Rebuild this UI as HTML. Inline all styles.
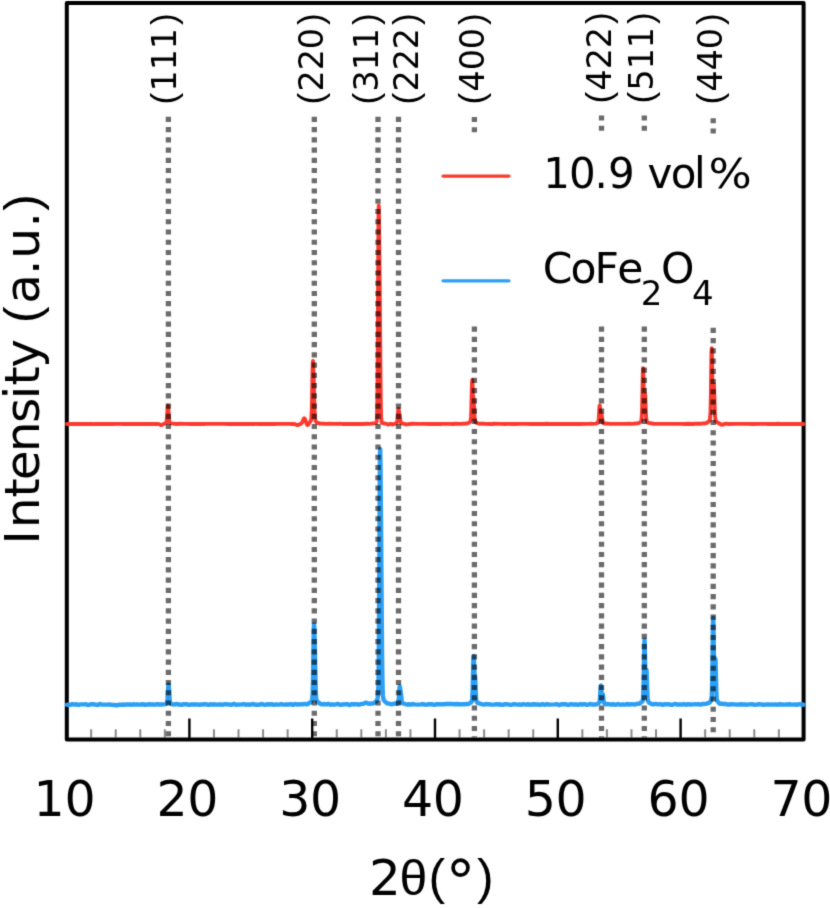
<!DOCTYPE html>
<html><head><meta charset="utf-8"><style>
html,body{margin:0;padding:0;background:#fff;}
svg{display:block;}
text{font-family:'DejaVu Sans', 'Liberation Sans', sans-serif;fill:#000;}
.lib{font-family:'Liberation Sans',sans-serif;}
</style></head><body><div>
<svg width="830" height="908" viewBox="0 0 830 908">
<defs><filter id="bl" x="0" y="0" width="830" height="908" filterUnits="userSpaceOnUse" color-interpolation-filters="sRGB"><feConvolveMatrix order="3" kernelMatrix="0.0188 0.0995 0.0188 0.0995 0.5271 0.0995 0.0188 0.0995 0.0188" edgeMode="duplicate" preserveAlpha="true"/></filter></defs>
<g filter="url(#bl)">
<rect width="830" height="908" fill="#fff"/>
<path d="M91.16,737.6V729.3M115.72,737.6V729.3M140.28,737.6V729.3M164.84,737.6V729.3M213.96,737.6V729.3M238.52,737.6V729.3M263.08,737.6V729.3M287.64,737.6V729.3M336.76,737.6V729.3M361.32,737.6V729.3M385.88,737.6V729.3M410.44,737.6V729.3M459.56,737.6V729.3M484.12,737.6V729.3M508.68,737.6V729.3M533.24,737.6V729.3M582.36,737.6V729.3M606.92,737.6V729.3M631.48,737.6V729.3M656.04,737.6V729.3M705.16,737.6V729.3M729.72,737.6V729.3M754.28,737.6V729.3M778.84,737.6V729.3" stroke="#8a8a8a" stroke-width="2" fill="none"/>
<path d="M189.40,739.5V718.5M312.20,739.5V718.5M435.00,739.5V718.5M557.80,739.5V718.5M680.60,739.5V718.5" stroke="#000" stroke-width="2.4" fill="none"/>
<rect x="66.8" y="3" width="736.8" height="736.5" fill="none" stroke="#000" stroke-width="4" stroke-linejoin="round"/>
<path d="M67.00,424.02 L73.25,423.98 L79.50,423.95 L85.75,424.03 L92.00,423.89 L94.00,424.07 L100.25,423.93 L103.50,424.01 L105.25,423.90 L111.50,423.98 L117.75,423.92 L124.00,423.97 L130.25,423.95 L136.50,423.91 L138.75,424.06 L141.00,423.87 L147.25,423.99 L153.50,423.86 L155.25,424.01 L157.50,423.91 L158.75,424.10 L160.75,425.01 L161.25,425.08 L161.75,424.96 L163.50,423.99 L165.50,423.20 L166.00,422.87 L166.25,422.53 L166.50,421.84 L166.75,420.38 L167.00,417.78 L167.25,414.00 L167.50,409.83 L167.75,406.66 L168.00,405.74 L168.25,407.36 L168.50,410.75 L168.75,414.66 L169.00,418.04 L169.25,420.41 L169.50,421.81 L169.75,422.53 L170.00,422.89 L170.25,423.08 L171.00,423.40 L177.25,423.97 L179.75,423.78 L186.00,423.91 L191.25,423.98 L197.50,423.93 L203.75,423.97 L205.50,423.87 L211.75,423.91 L218.00,423.87 L224.25,423.84 L229.75,424.01 L232.00,423.83 L238.25,423.97 L241.25,423.87 L247.50,423.98 L253.75,423.90 L260.00,423.97 L266.25,423.97 L270.50,423.84 L275.00,423.94 L276.75,423.84 L283.00,423.87 L289.25,423.86 L291.50,423.95 L293.25,423.83 L295.25,424.26 L297.00,425.00 L297.50,425.08 L298.00,425.02 L301.00,423.64 L301.50,423.24 L301.75,422.96 L302.00,422.60 L302.25,422.17 L302.50,421.65 L303.50,419.26 L303.75,418.79 L304.00,418.46 L304.25,418.32 L304.50,418.37 L304.75,418.61 L305.00,419.04 L305.25,419.61 L305.50,420.29 L306.25,422.61 L306.50,423.34 L306.75,423.98 L307.00,424.49 L307.25,424.83 L307.50,424.98 L307.75,424.95 L308.00,424.76 L308.25,424.44 L309.25,422.90 L310.25,421.64 L310.50,421.27 L310.75,420.79 L311.00,420.10 L311.25,418.81 L311.50,416.06 L311.75,410.44 L312.00,400.60 L312.25,386.95 L312.50,372.81 L312.75,363.11 L313.00,360.87 L313.25,365.08 L313.50,372.60 L313.75,381.31 L314.00,390.68 L314.25,400.13 L314.50,408.35 L314.75,414.25 L315.00,417.76 L315.25,419.60 L315.50,420.55 L315.75,421.13 L316.00,421.55 L316.50,422.18 L317.00,422.61 L317.75,423.00 L320.25,423.47 L326.50,423.89 L328.75,423.78 L335.00,423.90 L341.25,423.82 L343.25,424.00 L349.50,423.94 L354.50,423.87 L356.00,424.04 L362.25,423.97 L367.50,423.77 L369.50,423.92 L375.00,423.28 L375.75,422.98 L376.00,422.81 L376.25,422.54 L376.50,421.97 L376.75,420.44 L377.00,416.24 L377.25,405.95 L377.50,384.75 L377.75,349.02 L378.00,300.94 L378.25,251.44 L378.50,216.18 L378.75,205.58 L379.00,217.50 L379.25,240.90 L379.50,266.35 L379.75,292.00 L380.00,319.92 L380.25,349.75 L380.50,377.35 L380.75,398.39 L381.00,411.51 L381.25,418.27 L381.50,421.21 L381.75,422.35 L382.00,422.80 L382.25,423.00 L386.50,423.81 L388.00,424.47 L388.50,424.54 L389.00,424.41 L390.00,423.97 L390.50,423.88 L391.50,424.02 L392.50,424.30 L393.00,424.33 L396.00,423.28 L396.50,423.00 L396.75,422.74 L397.00,422.23 L397.25,421.15 L397.50,419.13 L397.75,416.05 L398.00,412.52 L398.25,409.78 L398.50,408.91 L398.75,409.88 L399.00,411.62 L399.25,413.15 L399.50,414.39 L399.75,415.81 L400.00,417.67 L400.25,419.65 L400.50,421.27 L400.75,422.31 L401.00,422.87 L401.25,423.14 L401.75,423.33 L404.25,423.82 L405.75,424.32 L406.50,424.35 L412.00,423.80 L418.25,423.88 L424.50,423.90 L430.75,423.96 L437.00,423.89 L440.25,424.01 L442.00,423.83 L448.25,423.88 L453.00,424.02 L455.25,423.77 L460.50,423.92 L466.50,423.51 L468.50,422.94 L469.25,422.55 L469.75,422.11 L470.00,421.81 L470.25,421.41 L470.50,420.75 L470.75,419.44 L471.00,416.63 L471.25,411.14 L471.50,402.41 L471.75,391.80 L472.00,383.00 L472.25,379.86 L472.50,383.11 L472.75,389.47 L473.00,394.64 L473.25,396.91 L473.50,397.98 L473.75,400.44 L474.00,405.13 L474.25,410.78 L474.50,415.62 L474.75,418.82 L475.00,420.57 L475.25,421.44 L475.50,421.90 L475.75,422.20 L476.25,422.59 L478.50,423.49 L484.75,423.82 L491.00,423.95 L492.25,423.96 L494.00,423.75 L500.25,423.87 L505.25,424.04 L507.50,423.86 L513.75,423.93 L520.00,423.90 L526.25,423.87 L531.75,423.97 L538.00,423.87 L544.00,424.01 L546.00,423.77 L550.25,424.04 L555.50,423.90 L557.25,424.02 L563.50,423.94 L569.75,423.98 L576.00,423.96 L578.00,423.85 L580.00,424.01 L586.25,423.91 L589.00,423.92 L590.75,423.71 L593.00,423.85 L595.75,423.62 L597.00,423.20 L597.75,422.76 L598.00,422.49 L598.25,421.94 L598.50,420.75 L598.75,418.42 L599.00,414.71 L599.25,410.20 L599.50,406.54 L599.75,405.46 L600.00,407.43 L600.25,411.10 L600.50,414.35 L600.75,415.74 L601.00,415.33 L601.25,414.30 L601.50,414.03 L601.75,415.15 L602.00,417.30 L602.25,419.57 L602.50,421.28 L602.75,422.29 L603.00,422.78 L603.25,423.02 L605.00,423.57 L611.25,423.87 L617.50,423.83 L623.75,423.86 L630.00,423.73 L631.75,423.90 L638.00,423.20 L639.25,422.79 L640.00,422.36 L640.50,421.88 L640.75,421.55 L641.00,421.12 L641.25,420.50 L641.50,419.38 L641.75,417.03 L642.00,412.09 L642.25,403.16 L642.50,390.32 L642.75,376.79 L643.00,368.23 L643.25,368.93 L643.50,378.14 L643.75,390.36 L644.00,399.45 L644.25,402.29 L644.50,399.75 L644.75,395.48 L645.00,393.58 L645.25,396.19 L645.50,402.40 L645.75,409.47 L646.00,415.09 L646.25,418.54 L646.50,420.32 L646.75,421.19 L647.00,421.66 L647.25,421.98 L647.75,422.43 L648.50,422.84 L653.75,423.73 L660.00,423.84 L666.25,423.88 L672.50,423.89 L678.75,423.86 L682.25,423.84 L684.00,424.03 L688.25,423.79 L693.00,423.95 L695.00,423.73 L701.25,423.68 L705.75,423.19 L707.25,422.60 L708.25,421.99 L708.75,421.53 L709.00,421.22 L709.25,420.83 L709.50,420.35 L709.75,419.69 L710.00,418.59 L710.25,416.32 L710.50,411.38 L710.75,401.72 L711.00,386.32 L711.25,367.69 L711.50,352.57 L711.75,348.29 L712.00,356.99 L712.25,373.62 L712.50,389.89 L712.75,399.64 L713.00,401.08 L713.25,396.02 L713.50,388.61 L713.75,383.85 L714.00,385.15 L714.25,392.25 L714.50,401.80 L714.75,410.18 L715.00,415.73 L715.25,418.71 L715.50,420.14 L715.75,420.86 L716.00,421.29 L716.25,421.60 L716.75,422.05 L721.50,424.71 L722.00,424.85 L722.50,424.82 L724.75,423.90 L726.25,423.67 L728.75,423.94 L734.50,423.84 L740.75,423.91 L747.00,423.87 L753.25,423.94 L759.50,423.90 L765.75,423.92 L768.00,423.98 L774.25,424.03 L778.75,423.80 L780.75,424.07 L787.00,423.91 L793.25,424.03 L799.50,423.94 L803.50,423.97" stroke="#fb3a2e" stroke-width="3.9" fill="none" stroke-linejoin="round" stroke-linecap="round"/>
<path d="M67.00,704.71 L68.00,705.02 L70.00,704.91 L72.25,704.19 L72.75,704.18 L74.25,704.64 L74.75,704.65 L76.00,704.32 L76.50,704.31 L78.00,704.82 L78.50,704.88 L80.75,704.36 L84.25,704.39 L85.50,704.27 L86.25,704.39 L87.50,704.89 L88.00,704.98 L88.75,704.88 L90.75,704.30 L92.50,704.16 L94.75,704.53 L96.00,704.63 L97.25,705.00 L97.75,705.01 L98.25,704.85 L99.50,704.09 L100.00,703.98 L100.50,704.05 L101.75,704.47 L108.00,704.63 L109.50,704.43 L110.25,704.51 L111.75,704.92 L114.00,704.94 L116.50,705.30 L117.50,705.22 L119.25,704.65 L120.00,704.64 L121.25,704.82 L123.00,704.53 L124.75,704.80 L125.50,704.72 L126.75,704.39 L130.00,704.43 L131.50,704.72 L132.25,704.61 L133.25,704.31 L134.00,704.30 L135.50,704.57 L137.50,704.50 L139.25,704.61 L142.50,704.27 L145.00,704.74 L149.75,704.24 L151.75,704.57 L153.50,704.50 L154.75,704.69 L155.50,704.60 L156.75,704.22 L157.50,704.24 L158.75,704.49 L160.75,704.32 L162.25,704.45 L165.25,704.13 L165.75,703.95 L166.25,703.65 L166.50,703.43 L166.75,703.10 L167.00,702.49 L167.25,701.25 L167.50,698.91 L167.75,695.23 L168.00,690.69 L168.25,686.60 L168.50,684.53 L168.75,685.25 L169.00,688.34 L169.25,692.55 L169.50,696.60 L169.75,699.68 L170.00,701.63 L170.25,702.70 L170.50,703.25 L170.75,703.55 L171.25,703.91 L172.00,704.22 L174.25,704.44 L175.25,704.30 L176.50,703.96 L177.00,703.98 L178.75,704.56 L181.75,704.76 L183.75,704.19 L187.00,704.30 L188.75,704.85 L189.25,704.87 L191.00,704.39 L197.00,704.43 L198.75,704.69 L205.00,704.31 L206.75,704.43 L208.25,704.87 L208.75,704.88 L210.50,704.28 L211.00,704.28 L212.25,704.55 L213.00,704.50 L214.00,704.29 L214.75,704.33 L216.00,704.63 L220.50,704.42 L222.25,704.74 L223.00,704.66 L224.25,704.24 L225.00,704.18 L231.25,704.73 L232.00,704.64 L233.50,704.01 L234.00,703.96 L234.50,704.08 L235.75,704.66 L236.25,704.74 L238.00,704.57 L239.75,704.64 L244.00,704.14 L244.75,704.32 L245.75,704.71 L246.25,704.77 L247.75,704.43 L248.25,704.43 L249.75,704.81 L250.25,704.79 L252.25,704.11 L253.00,704.04 L254.00,704.24 L255.25,704.70 L256.00,704.79 L257.75,704.60 L259.25,704.69 L261.25,704.07 L262.00,704.06 L265.00,704.90 L265.50,704.91 L266.25,704.70 L267.25,704.28 L267.75,704.22 L269.25,704.61 L269.75,704.59 L271.00,704.17 L271.50,704.14 L273.25,704.76 L273.75,704.79 L275.75,704.35 L279.00,704.65 L280.00,704.47 L281.00,704.18 L281.50,704.18 L283.25,704.67 L284.25,704.62 L286.00,704.36 L288.50,704.56 L290.50,704.12 L291.00,704.16 L292.50,704.81 L293.00,704.85 L293.50,704.69 L294.50,704.17 L295.00,704.05 L295.50,704.11 L296.75,704.48 L301.50,704.25 L302.75,704.36 L304.50,703.88 L305.00,703.87 L306.50,704.34 L307.00,704.34 L307.50,704.15 L309.25,702.95 L310.50,702.29 L311.00,701.90 L311.25,701.62 L311.50,701.26 L311.75,700.79 L312.00,700.10 L312.25,698.88 L312.50,696.33 L312.75,690.89 L313.00,680.63 L313.25,664.91 L313.50,646.44 L313.75,631.15 L314.00,624.40 L314.25,626.92 L314.50,635.27 L314.75,645.88 L315.00,657.50 L315.25,669.66 L315.50,681.03 L315.75,689.88 L316.00,695.54 L316.25,698.60 L316.50,700.10 L316.75,700.87 L317.00,701.31 L317.25,701.61 L320.00,703.63 L320.75,703.98 L322.25,704.20 L324.50,704.04 L326.25,704.45 L326.75,704.39 L328.00,703.92 L328.50,703.90 L329.00,704.06 L330.00,704.58 L330.50,704.70 L331.25,704.59 L332.25,704.32 L334.75,704.57 L337.50,703.95 L338.00,703.97 L338.75,704.23 L339.75,704.73 L340.25,704.85 L341.00,704.79 L342.50,704.47 L347.00,704.08 L347.75,704.21 L349.25,704.93 L349.75,705.03 L350.25,704.92 L351.50,704.20 L352.00,704.07 L352.50,704.12 L353.50,704.42 L354.00,704.45 L355.50,704.13 L356.25,704.18 L358.00,704.51 L359.75,704.46 L362.00,703.83 L363.50,703.70 L364.25,703.39 L365.25,702.80 L365.75,702.65 L366.25,702.67 L368.50,703.62 L369.50,703.74 L371.75,703.51 L372.75,703.51 L373.25,703.40 L373.75,703.14 L376.25,701.25 L376.50,700.98 L376.75,700.62 L377.00,700.14 L377.25,699.51 L377.50,698.63 L377.75,697.28 L378.00,694.79 L378.25,689.68 L378.50,679.10 L378.75,659.03 L379.00,625.87 L379.25,579.75 L379.50,527.36 L379.75,481.13 L380.00,453.39 L380.25,449.24 L380.50,464.43 L380.75,490.21 L381.00,520.06 L381.25,551.96 L381.50,585.48 L381.75,618.57 L382.00,647.55 L382.25,669.43 L382.50,683.65 L382.75,691.73 L383.00,695.91 L383.25,698.02 L383.50,699.18 L383.75,699.90 L384.00,700.41 L384.25,700.80 L384.75,701.35 L386.75,703.02 L387.25,703.33 L387.75,703.48 L389.25,703.59 L391.00,704.23 L391.50,704.26 L394.25,703.55 L395.25,703.59 L396.50,703.84 L397.00,703.83 L397.50,703.65 L397.75,703.49 L398.00,703.21 L398.25,702.66 L398.50,701.52 L398.75,699.33 L399.00,695.84 L399.25,691.58 L399.50,687.97 L399.75,686.44 L400.00,687.25 L400.25,689.29 L400.50,691.21 L400.75,692.67 L401.00,694.21 L401.25,696.26 L401.50,698.58 L401.75,700.58 L402.00,701.93 L402.25,702.67 L402.50,703.03 L402.75,703.22 L406.50,704.49 L407.00,704.56 L408.75,704.22 L409.50,704.32 L410.50,704.59 L411.00,704.56 L412.50,704.05 L413.00,704.04 L414.75,704.42 L418.00,704.64 L421.00,704.34 L422.25,704.07 L423.00,704.12 L424.75,704.66 L426.50,704.71 L428.75,704.28 L432.25,704.30 L433.75,704.76 L434.25,704.79 L436.00,704.29 L438.25,704.32 L439.50,704.26 L441.00,704.44 L442.75,704.11 L444.50,704.25 L446.50,703.94 L448.25,704.05 L450.50,703.85 L454.25,704.19 L456.25,704.02 L459.50,704.21 L460.75,704.43 L462.75,704.17 L464.25,704.31 L466.00,703.99 L467.75,704.18 L468.25,704.09 L470.75,702.66 L471.25,702.19 L471.50,701.85 L471.75,701.34 L472.00,700.41 L472.25,698.42 L472.50,694.25 L472.75,686.69 L473.00,675.80 L473.25,664.24 L473.50,656.63 L473.75,656.23 L474.00,661.94 L474.25,669.07 L474.50,673.58 L474.75,675.21 L475.00,676.69 L475.25,680.38 L475.50,686.20 L475.75,692.28 L476.00,696.93 L476.25,699.74 L476.50,701.17 L476.75,701.86 L477.00,702.25 L477.50,702.75 L478.25,703.21 L482.75,704.50 L483.75,704.57 L486.00,704.04 L488.00,704.34 L489.50,704.27 L491.25,704.67 L495.00,704.43 L496.25,704.18 L498.25,704.45 L499.75,704.28 L500.50,704.45 L501.50,704.86 L502.00,704.94 L502.75,704.80 L504.25,704.31 L506.50,704.19 L511.00,704.90 L511.75,704.82 L513.25,704.23 L514.00,704.12 L517.75,704.69 L519.50,704.45 L521.25,704.72 L521.75,704.67 L523.00,704.21 L523.50,704.16 L525.25,704.66 L526.00,704.58 L527.25,704.30 L531.25,704.72 L533.25,704.27 L534.00,704.28 L535.25,704.51 L537.50,704.37 L539.75,704.71 L541.00,704.61 L542.50,704.24 L543.00,704.24 L544.50,704.71 L545.00,704.74 L546.50,704.20 L547.00,704.14 L548.75,704.66 L555.00,704.40 L556.50,704.08 L557.00,704.13 L558.50,704.92 L559.00,705.05 L559.50,704.99 L561.00,704.37 L562.00,704.30 L566.00,704.32 L568.00,704.93 L568.50,704.92 L570.25,704.22 L570.75,704.17 L572.50,704.50 L576.25,704.42 L578.00,704.82 L578.50,704.81 L580.00,704.21 L580.50,704.12 L581.00,704.21 L582.00,704.58 L582.50,704.62 L584.00,704.17 L584.50,704.16 L586.25,704.80 L587.00,704.85 L589.75,704.06 L590.50,704.06 L592.00,704.48 L592.75,704.50 L594.25,704.33 L595.75,704.50 L596.50,704.37 L598.50,703.30 L599.00,702.93 L599.25,702.62 L599.50,701.97 L599.75,700.58 L600.00,697.92 L600.25,693.87 L600.50,689.29 L600.75,685.98 L601.00,685.62 L601.25,688.27 L601.50,692.25 L601.75,695.34 L602.00,696.34 L602.25,695.59 L602.50,694.44 L602.75,694.28 L603.00,695.58 L603.50,700.04 L603.75,701.66 L604.00,702.61 L604.25,703.12 L604.50,703.43 L605.00,703.87 L605.50,704.17 L606.00,704.30 L607.50,703.99 L608.00,704.00 L609.75,704.47 L613.75,704.26 L615.50,704.74 L616.00,704.73 L617.50,704.13 L618.00,704.06 L620.00,704.58 L622.75,704.32 L624.75,704.65 L625.50,704.57 L626.75,704.10 L627.25,704.04 L627.75,704.13 L629.00,704.62 L629.50,704.64 L631.25,704.12 L635.25,704.45 L636.00,704.28 L637.25,703.80 L638.00,703.74 L639.00,703.78 L639.50,703.63 L640.25,703.11 L642.00,701.76 L642.25,701.51 L642.50,701.14 L642.75,700.44 L643.00,698.89 L643.25,695.34 L643.50,688.06 L643.75,675.84 L644.00,660.08 L644.25,645.92 L644.50,639.90 L644.75,644.95 L645.00,657.70 L645.25,670.90 L645.50,678.55 L645.75,678.92 L646.25,670.10 L646.50,669.76 L646.75,674.64 L647.00,682.56 L647.25,690.29 L647.50,695.83 L647.75,699.01 L648.00,700.60 L648.25,701.41 L648.50,701.90 L648.75,702.26 L649.25,702.76 L650.00,703.20 L652.25,704.28 L652.75,704.42 L653.25,704.42 L655.00,703.95 L657.00,704.08 L658.75,704.41 L660.50,704.22 L661.00,704.29 L662.25,704.82 L662.75,704.89 L663.25,704.77 L664.50,704.13 L665.00,704.05 L666.75,704.36 L668.50,704.23 L671.50,704.80 L672.50,704.76 L674.50,703.99 L675.00,703.96 L676.75,704.48 L681.75,704.57 L683.75,704.11 L684.25,704.12 L685.75,704.64 L686.25,704.71 L687.00,704.54 L688.00,704.21 L688.50,704.21 L690.00,704.54 L693.50,704.42 L694.75,704.25 L696.50,704.38 L698.00,704.10 L698.50,704.14 L700.00,704.62 L700.50,704.62 L702.25,704.07 L705.75,703.92 L709.00,702.97 L709.50,702.68 L710.00,702.18 L710.25,701.84 L710.50,701.42 L710.75,700.93 L711.00,700.33 L711.25,699.54 L711.50,698.27 L711.75,695.68 L712.00,690.05 L712.25,679.02 L712.50,661.40 L712.75,640.08 L713.00,622.77 L713.25,617.86 L713.50,627.83 L713.75,646.88 L714.00,665.53 L714.25,676.72 L714.50,678.42 L714.75,672.64 L715.00,664.10 L715.25,658.50 L715.50,659.82 L715.75,667.84 L716.00,678.75 L716.25,688.39 L716.50,694.79 L716.75,698.22 L717.00,699.87 L717.25,700.69 L717.50,701.20 L718.00,701.94 L719.00,703.14 L719.50,703.59 L720.00,703.85 L720.50,703.91 L721.75,703.74 L723.50,704.01 L725.25,703.86 L727.25,704.52 L729.75,704.49 L731.75,704.08 L737.00,704.58 L741.50,704.23 L743.25,704.55 L745.00,704.36 L746.75,704.71 L747.50,704.66 L748.75,704.40 L750.50,704.38 L751.75,704.17 L752.50,704.27 L753.75,704.69 L757.25,704.59 L759.00,704.17 L763.25,704.77 L768.25,704.32 L770.25,704.58 L772.00,704.47 L773.50,704.62 L775.25,704.33 L777.00,704.70 L777.50,704.69 L779.00,704.27 L784.25,704.67 L786.00,704.46 L787.75,704.47 L789.25,704.28 L791.75,704.62 L795.00,704.46 L796.75,704.71 L797.50,704.58 L798.50,704.24 L799.00,704.18 L800.75,704.50 L802.50,704.46 L803.50,704.70" stroke="#2c9ff5" stroke-width="4.4" fill="none" stroke-linejoin="round" stroke-linecap="round"/>
<path d="M168.4,116.80V121.92M168.4,127.04V132.16M168.4,137.28V142.40M168.4,147.52V152.64M168.4,157.76V162.88M168.4,168.00V173.12M168.4,178.24V183.36M168.4,188.48V193.60M168.4,198.72V203.84M168.4,208.96V214.08M168.4,219.20V224.32M168.4,229.44V234.56M168.4,239.68V244.80M168.4,249.92V255.04M168.4,260.16V265.28M168.4,270.40V275.52M168.4,280.64V285.76M168.4,290.88V296.00M168.4,301.12V306.24M168.4,311.36V316.48M168.4,321.60V326.72M168.4,331.84V336.96M168.4,342.08V347.20M168.4,352.32V357.44M168.4,362.56V367.68M168.4,372.80V377.92M168.4,383.04V388.16M168.4,393.28V398.40M168.4,403.52V408.64M168.4,413.76V418.88M168.4,424.00V429.12M168.4,434.24V439.36M168.4,444.48V449.60M168.4,454.72V459.84M168.4,464.96V470.08M168.4,475.20V480.32M168.4,485.44V490.56M168.4,495.68V500.80M168.4,505.92V511.04M168.4,516.16V521.28M168.4,526.40V531.52M168.4,536.64V541.76M168.4,546.88V552.00M168.4,557.12V562.24M168.4,567.36V572.48M168.4,577.60V582.72M168.4,587.84V592.96M168.4,598.08V603.20M168.4,608.32V613.44M168.4,618.56V623.68M168.4,628.80V633.92M168.4,639.04V644.16M168.4,649.28V654.40M168.4,659.52V664.64M168.4,669.76V674.88M168.4,680.00V685.12M168.4,690.24V695.36M168.4,700.48V705.60M168.4,710.72V715.84M168.4,720.96V726.08M168.4,731.20V736.32M314.3,116.80V121.92M314.3,127.04V132.16M314.3,137.28V142.40M314.3,147.52V152.64M314.3,157.76V162.88M314.3,168.00V173.12M314.3,178.24V183.36M314.3,188.48V193.60M314.3,198.72V203.84M314.3,208.96V214.08M314.3,219.20V224.32M314.3,229.44V234.56M314.3,239.68V244.80M314.3,249.92V255.04M314.3,260.16V265.28M314.3,270.40V275.52M314.3,280.64V285.76M314.3,290.88V296.00M314.3,301.12V306.24M314.3,311.36V316.48M314.3,321.60V326.72M314.3,331.84V336.96M314.3,342.08V347.20M314.3,352.32V357.44M314.3,362.56V367.68M314.3,372.80V377.92M314.3,383.04V388.16M314.3,393.28V398.40M314.3,403.52V408.64M314.3,413.76V418.88M314.3,424.00V429.12M314.3,434.24V439.36M314.3,444.48V449.60M314.3,454.72V459.84M314.3,464.96V470.08M314.3,475.20V480.32M314.3,485.44V490.56M314.3,495.68V500.80M314.3,505.92V511.04M314.3,516.16V521.28M314.3,526.40V531.52M314.3,536.64V541.76M314.3,546.88V552.00M314.3,557.12V562.24M314.3,567.36V572.48M314.3,577.60V582.72M314.3,587.84V592.96M314.3,598.08V603.20M314.3,608.32V613.44M314.3,618.56V623.68M314.3,628.80V633.92M314.3,639.04V644.16M314.3,649.28V654.40M314.3,659.52V664.64M314.3,669.76V674.88M314.3,680.00V685.12M314.3,690.24V695.36M314.3,700.48V705.60M314.3,710.72V715.84M314.3,720.96V726.08M314.3,731.20V736.32M378.0,116.80V121.92M378.0,127.04V132.16M378.0,137.28V142.40M378.0,147.52V152.64M378.0,157.76V162.88M378.0,168.00V173.12M378.0,178.24V183.36M378.0,188.48V193.60M378.0,198.72V203.84M378.0,208.96V214.08M378.0,219.20V224.32M378.0,229.44V234.56M378.0,239.68V244.80M378.0,249.92V255.04M378.0,260.16V265.28M378.0,270.40V275.52M378.0,280.64V285.76M378.0,290.88V296.00M378.0,301.12V306.24M378.0,311.36V316.48M378.0,321.60V326.72M378.0,331.84V336.96M378.0,342.08V347.20M378.0,352.32V357.44M378.0,362.56V367.68M378.0,372.80V377.92M378.0,383.04V388.16M378.0,393.28V398.40M378.0,403.52V408.64M378.0,413.76V418.88M378.0,424.00V429.12M378.0,434.24V439.36M378.0,444.48V449.60M378.0,454.72V459.84M378.0,464.96V470.08M378.0,475.20V480.32M378.0,485.44V490.56M378.0,495.68V500.80M378.0,505.92V511.04M378.0,516.16V521.28M378.0,526.40V531.52M378.0,536.64V541.76M378.0,546.88V552.00M378.0,557.12V562.24M378.0,567.36V572.48M378.0,577.60V582.72M378.0,587.84V592.96M378.0,598.08V603.20M378.0,608.32V613.44M378.0,618.56V623.68M378.0,628.80V633.92M378.0,639.04V644.16M378.0,649.28V654.40M378.0,659.52V664.64M378.0,669.76V674.88M378.0,680.00V685.12M378.0,690.24V695.36M378.0,700.48V705.60M378.0,710.72V715.84M378.0,720.96V726.08M378.0,731.20V736.32M398.5,116.80V121.92M398.5,127.04V132.16M398.5,137.28V142.40M398.5,147.52V152.64M398.5,157.76V162.88M398.5,168.00V173.12M398.5,178.24V183.36M398.5,188.48V193.60M398.5,198.72V203.84M398.5,208.96V214.08M398.5,219.20V224.32M398.5,229.44V234.56M398.5,239.68V244.80M398.5,249.92V255.04M398.5,260.16V265.28M398.5,270.40V275.52M398.5,280.64V285.76M398.5,290.88V296.00M398.5,301.12V306.24M398.5,311.36V316.48M398.5,321.60V326.72M398.5,331.84V336.96M398.5,342.08V347.20M398.5,352.32V357.44M398.5,362.56V367.68M398.5,372.80V377.92M398.5,383.04V388.16M398.5,393.28V398.40M398.5,403.52V408.64M398.5,413.76V418.88M398.5,424.00V429.12M398.5,434.24V439.36M398.5,444.48V449.60M398.5,454.72V459.84M398.5,464.96V470.08M398.5,475.20V480.32M398.5,485.44V490.56M398.5,495.68V500.80M398.5,505.92V511.04M398.5,516.16V521.28M398.5,526.40V531.52M398.5,536.64V541.76M398.5,546.88V552.00M398.5,557.12V562.24M398.5,567.36V572.48M398.5,577.60V582.72M398.5,587.84V592.96M398.5,598.08V603.20M398.5,608.32V613.44M398.5,618.56V623.68M398.5,628.80V633.92M398.5,639.04V644.16M398.5,649.28V654.40M398.5,659.52V664.64M398.5,669.76V674.88M398.5,680.00V685.12M398.5,690.24V695.36M398.5,700.48V705.60M398.5,710.72V715.84M398.5,720.96V726.08M398.5,731.20V736.32M474.4,117.00V122.12M474.4,127.24V132.36M474.4,326.60V331.72M474.4,336.84V341.96M474.4,347.08V352.20M474.4,357.32V362.44M474.4,367.56V372.68M474.4,377.80V382.92M474.4,388.04V393.16M474.4,398.28V403.40M474.4,408.52V413.64M474.4,418.76V423.88M474.4,429.00V434.12M474.4,439.24V444.36M474.4,449.48V454.60M474.4,459.72V464.84M474.4,469.96V475.08M474.4,480.20V485.32M474.4,490.44V495.56M474.4,500.68V505.80M474.4,510.92V516.04M474.4,521.16V526.28M474.4,531.40V536.52M474.4,541.64V546.76M474.4,551.88V557.00M474.4,562.12V567.24M474.4,572.36V577.48M474.4,582.60V587.72M474.4,592.84V597.96M474.4,603.08V608.20M474.4,613.32V618.44M474.4,623.56V628.68M474.4,633.80V638.92M474.4,644.04V649.16M474.4,654.28V659.40M474.4,664.52V669.64M474.4,674.76V679.88M474.4,685.00V690.12M474.4,695.24V700.36M474.4,705.48V710.60M474.4,715.72V720.84M474.4,725.96V731.08M474.4,736.20V737.50M601.5,115.40V120.52M601.5,125.64V130.76M601.5,326.60V331.72M601.5,336.84V341.96M601.5,347.08V352.20M601.5,357.32V362.44M601.5,367.56V372.68M601.5,377.80V382.92M601.5,388.04V393.16M601.5,398.28V403.40M601.5,408.52V413.64M601.5,418.76V423.88M601.5,429.00V434.12M601.5,439.24V444.36M601.5,449.48V454.60M601.5,459.72V464.84M601.5,469.96V475.08M601.5,480.20V485.32M601.5,490.44V495.56M601.5,500.68V505.80M601.5,510.92V516.04M601.5,521.16V526.28M601.5,531.40V536.52M601.5,541.64V546.76M601.5,551.88V557.00M601.5,562.12V567.24M601.5,572.36V577.48M601.5,582.60V587.72M601.5,592.84V597.96M601.5,603.08V608.20M601.5,613.32V618.44M601.5,623.56V628.68M601.5,633.80V638.92M601.5,644.04V649.16M601.5,654.28V659.40M601.5,664.52V669.64M601.5,674.76V679.88M601.5,685.00V690.12M601.5,695.24V700.36M601.5,705.48V710.60M601.5,715.72V720.84M601.5,725.96V731.08M601.5,736.20V737.50M644.3,115.40V120.52M644.3,125.64V130.76M644.3,326.60V331.72M644.3,336.84V341.96M644.3,347.08V352.20M644.3,357.32V362.44M644.3,367.56V372.68M644.3,377.80V382.92M644.3,388.04V393.16M644.3,398.28V403.40M644.3,408.52V413.64M644.3,418.76V423.88M644.3,429.00V434.12M644.3,439.24V444.36M644.3,449.48V454.60M644.3,459.72V464.84M644.3,469.96V475.08M644.3,480.20V485.32M644.3,490.44V495.56M644.3,500.68V505.80M644.3,510.92V516.04M644.3,521.16V526.28M644.3,531.40V536.52M644.3,541.64V546.76M644.3,551.88V557.00M644.3,562.12V567.24M644.3,572.36V577.48M644.3,582.60V587.72M644.3,592.84V597.96M644.3,603.08V608.20M644.3,613.32V618.44M644.3,623.56V628.68M644.3,633.80V638.92M644.3,644.04V649.16M644.3,654.28V659.40M644.3,664.52V669.64M644.3,674.76V679.88M644.3,685.00V690.12M644.3,695.24V700.36M644.3,705.48V710.60M644.3,715.72V720.84M644.3,725.96V731.08M644.3,736.20V737.50M713.2,118.20V123.32M713.2,128.44V133.56M713.2,327.80V332.92M713.2,338.04V343.16M713.2,348.28V353.40M713.2,358.52V363.64M713.2,368.76V373.88M713.2,379.00V384.12M713.2,389.24V394.36M713.2,399.48V404.60M713.2,409.72V414.84M713.2,419.96V425.08M713.2,430.20V435.32M713.2,440.44V445.56M713.2,450.68V455.80M713.2,460.92V466.04M713.2,471.16V476.28M713.2,481.40V486.52M713.2,491.64V496.76M713.2,501.88V507.00M713.2,512.12V517.24M713.2,522.36V527.48M713.2,532.60V537.72M713.2,542.84V547.96M713.2,553.08V558.20M713.2,563.32V568.44M713.2,573.56V578.68M713.2,583.80V588.92M713.2,594.04V599.16M713.2,604.28V609.40M713.2,614.52V619.64M713.2,624.76V629.88M713.2,635.00V640.12M713.2,645.24V650.36M713.2,655.48V660.60M713.2,665.72V670.84M713.2,675.96V681.08M713.2,686.20V691.32M713.2,696.44V701.56M713.2,706.68V711.80M713.2,716.92V722.04M713.2,727.16V732.28M713.2,737.40V737.50" stroke="#000" stroke-opacity="0.58" stroke-width="5.3" fill="none"/>
<g font-size="49" style="font-size:49px"><text x="33.60 64.40" y="816.0">10</text><text x="156.40 187.20" y="816.0">20</text><text x="279.20 310.00" y="816.0">30</text><text x="402.00 432.80" y="816.0">40</text><text x="524.80 555.60" y="816.0">50</text><text x="647.60 678.40" y="816.0">60</text><text x="770.40 801.20" y="816.0">70</text></g>
<text y="895" font-size="50" style="font-size:50px"><tspan x="368.9">2</tspan><tspan x="399.6" class="lib">θ</tspan><tspan x="428.5" y="894.2" class="lib">(</tspan><tspan x="445.6" y="903.2" style="font-size:60px">°</tspan><tspan x="477" y="894.2" class="lib">)</tspan></text>
<text transform="translate(39,544.5) rotate(-90)" font-size="48.6" style="font-size:48.6px"><tspan x="0 16.3 47.1 64.2 92.3 121.4 145.3 158.9 176.7">Intensity</tspan> <tspan x="221.55" y="-0.5" class="lib" style="font-size:50px">(</tspan><tspan x="240.8 269.6 285.7 317.05" y="0">a.u.</tspan><tspan x="333.7" y="-0.5" class="lib" style="font-size:50px">)</tspan></text>
<g><text transform="translate(176.40,102.4) rotate(-90)"><tspan x="-2.17" class="lib" style="font-size:35px">(</tspan><tspan x="10.86 32.06 53.1" style="font-size:33.3px">111</tspan><tspan x="77.4" class="lib" style="font-size:35px">)</tspan></text><text transform="translate(323.40,102.4) rotate(-90)"><tspan x="-2.17" class="lib" style="font-size:35px">(</tspan><tspan x="10.86 32.06 53.1" style="font-size:33.3px">220</tspan><tspan x="77.4" class="lib" style="font-size:35px">)</tspan></text><text transform="translate(378.40,102.4) rotate(-90)"><tspan x="-2.17" class="lib" style="font-size:35px">(</tspan><tspan x="10.86 32.06 53.1" style="font-size:33.3px">311</tspan><tspan x="77.4" class="lib" style="font-size:35px">)</tspan></text><text transform="translate(418.40,102.4) rotate(-90)"><tspan x="-2.17" class="lib" style="font-size:35px">(</tspan><tspan x="10.86 32.06 53.1" style="font-size:33.3px">222</tspan><tspan x="77.4" class="lib" style="font-size:35px">)</tspan></text><text transform="translate(483.50,102.4) rotate(-90)"><tspan x="-2.17" class="lib" style="font-size:35px">(</tspan><tspan x="10.86 32.06 53.1" style="font-size:33.3px">400</tspan><tspan x="77.4" class="lib" style="font-size:35px">)</tspan></text><text transform="translate(610.60,101.4) rotate(-90)"><tspan x="-2.17" class="lib" style="font-size:35px">(</tspan><tspan x="10.86 32.06 53.1" style="font-size:33.3px">422</tspan><tspan x="77.4" class="lib" style="font-size:35px">)</tspan></text><text transform="translate(652.70,101.4) rotate(-90)"><tspan x="-2.17" class="lib" style="font-size:35px">(</tspan><tspan x="10.86 32.06 53.1" style="font-size:33.3px">511</tspan><tspan x="77.4" class="lib" style="font-size:35px">)</tspan></text><text transform="translate(721.80,102.4) rotate(-90)"><tspan x="-2.17" class="lib" style="font-size:35px">(</tspan><tspan x="10.86 32.06 53.1" style="font-size:33.3px">440</tspan><tspan x="77.4" class="lib" style="font-size:35px">)</tspan></text></g>
<path d="M443,176.1H509" stroke="#fb3a2e" stroke-width="3.2" stroke-linecap="round"/>
<path d="M443,280.8H509" stroke="#2c9ff5" stroke-width="3.2" stroke-linecap="round"/>
<text x="543.2 569.1 594.5 607.9 630 647.5 670.8 694.1" y="188.4" font-size="42" style="font-size:42px">10.9 vol</text><text transform="translate(708.4,188.4) scale(1.085,0.97)" font-size="42" style="font-size:42px">%</text>
<text x="542.7 570.6 594.4 617.3" y="282.6" font-size="42.5" style="font-size:42.5px">CoFe</text>
<text x="660.9" y="282.6" font-size="42.5" style="font-size:42.5px">O</text>
<text x="640.8" y="304.5" font-size="34" style="font-size:34px">2</text>
<text x="692.1" y="304.5" font-size="34" style="font-size:34px">4</text>
</g>
</svg></div>
</body></html>
